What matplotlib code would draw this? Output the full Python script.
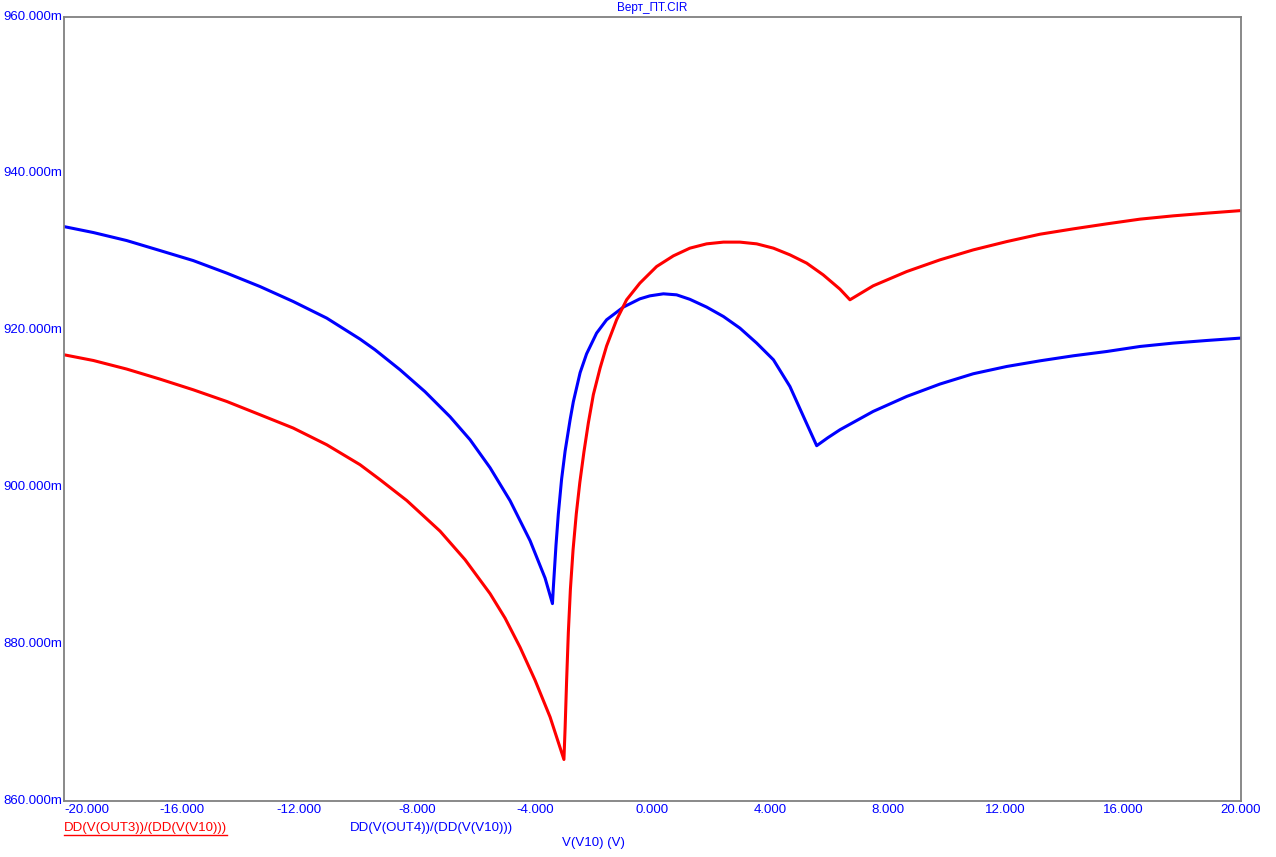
import matplotlib
matplotlib.use("Agg")
import matplotlib.pyplot as plt
from matplotlib.lines import Line2D

plt.rcParams['font.family'] = ['Liberation Sans', 'DejaVu Sans']

# ---- data (V(V10) in volts, derivative values in milli-units) ----
blue_x = [-20.0, -19.00, -17.87, -16.74, -15.61, -14.47, -13.34, -12.21, -11.07, -9.94, -9.43, -8.58,
          -7.73, -6.88, -6.20, -5.52, -4.84, -4.16, -3.65, -3.40,
          -3.37, -3.28, -3.20, -3.09, -2.97, -2.80, -2.69, -2.46, -2.24, -1.90, -1.56, -0.99, -0.43,
          -0.09, 0.37, 0.82, 1.27, 1.84, 2.41, 2.97, 3.54, 4.11, 4.67, 5.18, 5.58,
          5.96, 6.37, 7.50, 8.64, 9.77, 10.90, 12.04, 13.17, 14.30, 15.44, 16.57, 17.70, 18.83, 20.0]
blue_y = [933.22, 932.46, 931.44, 930.17, 928.89, 927.29, 925.58, 923.67, 921.55, 918.88, 917.52, 914.97,
          912.17, 908.98, 906.05, 902.48, 898.28, 893.18, 888.41, 885.16,
          887.20, 892.60, 896.60, 901.00, 904.60, 908.60, 910.90, 914.60, 917.00, 919.64, 921.34, 922.96, 924.01,
          924.39, 924.65, 924.52, 923.95, 922.96, 921.76, 920.28, 918.37, 916.24, 912.84, 908.60, 905.29,
          906.31, 907.32, 909.66, 911.57, 913.15, 914.46, 915.39, 916.11, 916.75, 917.30, 917.94, 918.37, 918.70, 919.01]

red_x = [-20.0, -19.00, -17.87, -16.74, -15.61, -14.47, -13.34, -12.21, -11.07, -9.94, -9.26, -8.35,
         -7.22, -6.37, -5.52, -5.01, -4.50, -3.99, -3.48, -3.01,
         -2.97, -2.92, -2.86, -2.79, -2.70, -2.59, -2.47, -2.33, -2.18, -2.01, -1.78, -1.56, -1.22, -0.88, -0.43,
         0.14, 0.71, 1.27, 1.84, 2.41, 2.97, 3.54, 4.11, 4.67, 5.24, 5.80, 6.37, 6.71,
         7.50, 8.64, 9.77, 10.90, 12.04, 13.17, 14.30, 15.44, 16.57, 17.70, 18.83, 20.0]
red_y = [916.88, 916.15, 915.06, 913.78, 912.42, 910.93, 909.24, 907.54, 905.41, 902.87, 900.96, 898.30,
         894.40, 890.76, 886.43, 883.31, 879.59, 875.39, 870.70, 865.29,
         869.30, 875.20, 881.50, 887.00, 892.00, 896.60, 900.60, 904.50, 908.20, 911.80, 915.20, 918.00, 921.34, 923.89, 926.01,
         928.13, 929.49, 930.47, 931.02, 931.24, 931.24, 931.02, 930.47, 929.62, 928.56, 927.07, 925.25, 923.89,
         925.67, 927.49, 928.98, 930.25, 931.31, 932.25, 932.93, 933.57, 934.17, 934.59, 934.93, 935.26]

x_ticks = [-20, -16, -12, -8, -4, 0, 4, 8, 12, 16, 20]
y_ticks = [860, 880, 900, 920, 940, 960]

title = "Верт_ПТ.CIR"
red_label = "DD(V(OUT3))/(DD(V(V10)))"
blue_label = "DD(V(OUT4))/(DD(V(V10)))"
x_label = "V(V10) (V)"

W, H = 1276, 857
fig = plt.figure(figsize=(W / 100, H / 100), dpi=100)
L, R, T, B = 64, 1241, 16.5, 801
ax = fig.add_axes([L / W, 1 - B / H, (R - L) / W, (B - T) / H])

ax.plot(blue_x, blue_y, color='#0000ff', lw=2.2, solid_joinstyle='round')
ax.plot(red_x, red_y, color='#ff0000', lw=2.2, solid_joinstyle='round')

ax.set_xlim(-20, 20)
ax.set_ylim(860, 960)
ax.set_xticks(x_ticks)
ax.set_yticks(y_ticks)
ax.tick_params(length=0, colors='#0000ff', labelsize=9.5)
ax.set_xticklabels([])
ax.set_yticklabels([])
for s in ax.spines.values():
    s.set_color('#808080')
    s.set_linewidth(1.3)

blue = '#0000ff'
fs = 9.5
# y tick labels
for v in y_ticks:
    ax.annotate(f"{v:.3f}m", xy=(0, v), xycoords=('axes fraction', 'data'),
                xytext=(-2, 0), textcoords='offset pixels', ha='right', va='center',
                color=blue, fontsize=fs)
# x tick labels
for v in x_ticks:
    ha = 'left' if v == x_ticks[0] else 'center'
    ax.annotate(f"{v:.3f}", xy=(v, 0), xycoords=('data', 'axes fraction'),
                xytext=(0, -3), textcoords='offset pixels', ha=ha, va='top',
                color=blue, fontsize=fs)

fig.text(0.5 * (L + R) / W, 1 - 8.5 / H, title, ha='center', va='center', color=blue, fontsize=8.5)
t_red = fig.text(L / W, 1 - 828 / H, red_label, ha='left', va='center', color='#ff0000', fontsize=fs)
fig.text(350 / W, 1 - 828 / H, blue_label, ha='left', va='center', color=blue, fontsize=fs)
fig.text(593 / W, 1 - 843 / H, x_label, ha='center', va='center', color=blue, fontsize=fs)

fig.canvas.draw()
bb = t_red.get_window_extent()
fig.add_artist(Line2D([bb.x0 / W, bb.x1 / W], [(bb.y0 - 1) / H, (bb.y0 - 1) / H],
                      color='#ff0000', lw=1.0, transform=fig.transFigure))

fig.savefig("out.png", dpi=100, facecolor='white')
